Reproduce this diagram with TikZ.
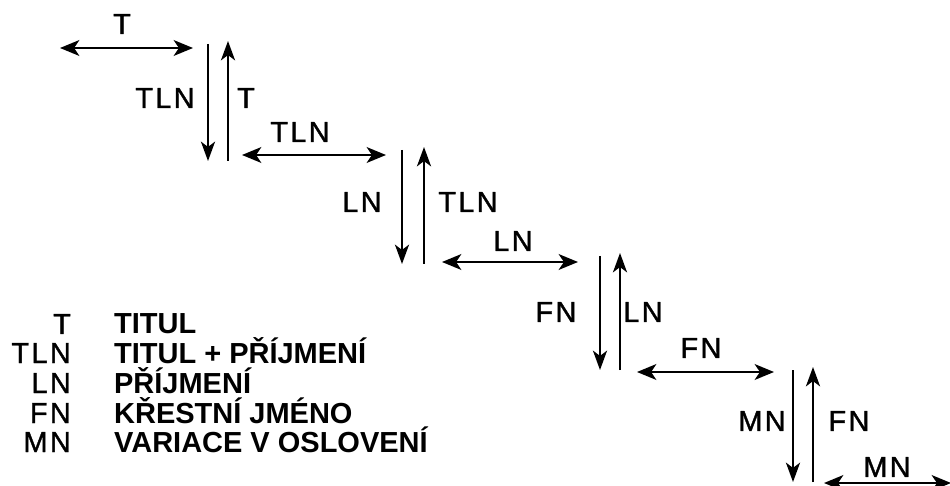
\documentclass[tikz,border=0pt]{standalone}
\usepackage{fontspec}
\setmainfont{Liberation Sans}
\usetikzlibrary{arrows.meta}

\begin{document}
\begin{tikzpicture}[x=0.02cm, y=-0.02cm, line width=1.3pt,
  every node/.style={inner sep=0pt, font=\fontsize{16.5}{16.5}\selectfont\addfontfeature{LetterSpace=8,FakeBold=1.2}},
  both/.style={{Stealth[length=11pt,width=9pt,inset=3pt]}-{Stealth[length=11pt,width=9pt,inset=3pt]}},
  single/.style={-{Stealth[length=11pt,width=8pt,inset=3pt]}},
  key/.style={anchor=base east},
  meaning/.style={anchor=base west, font=\fontsize{16.5}{16.5}\selectfont\bfseries}]
\useasboundingbox (0,0) rectangle (950,486);
% Step 1
\coordinate (h1a) at (60,48); \coordinate (h1b) at (193,48);
\coordinate (d1a) at (208,44); \coordinate (d1b) at (208,161);
\coordinate (u1a) at (228,161); \coordinate (u1b) at (228,41);
\draw[both] (h1a) -- (h1b);
\draw[single] (d1a) -- (d1b);
\draw[single] (u1a) -- (u1b);
\node (t1) at (122,24) {T};
\node (l1) at (165,98) {TLN};
\node (r1) at (246,98) {T};
% Step 2
\coordinate (h2a) at (242,155); \coordinate (h2b) at (386,155);
\coordinate (d2a) at (402,150); \coordinate (d2b) at (402,264);
\coordinate (u2a) at (424,264); \coordinate (u2b) at (424,147);
\draw[both] (h2a) -- (h2b);
\draw[single] (d2a) -- (d2b);
\draw[single] (u2a) -- (u2b);
\node (t2) at (300,132) {TLN};
\node (l2) at (362,202) {LN};
\node (r2) at (468,202) {TLN};
% Step 3
\coordinate (h3a) at (442,262); \coordinate (h3b) at (578,262);
\coordinate (d3a) at (600,256); \coordinate (d3b) at (600,370);
\coordinate (u3a) at (620,370); \coordinate (u3b) at (620,253);
\draw[both] (h3a) -- (h3b);
\draw[single] (d3a) -- (d3b);
\draw[single] (u3a) -- (u3b);
\node (t3) at (513,241) {LN};
\node (l3) at (556,312) {FN};
\node (r3) at (643,312) {LN};
% Step 4
\coordinate (h4a) at (637,372); \coordinate (h4b) at (774,372);
\coordinate (d4a) at (793,370); \coordinate (d4b) at (793,482);
\coordinate (u4a) at (813,482); \coordinate (u4b) at (813,367);
\draw[both] (h4a) -- (h4b);
\draw[single] (d4a) -- (d4b);
\draw[single] (u4a) -- (u4b);
\node (t4) at (701,348) {FN};
\node (l4) at (762,421) {MN};
\node (r4) at (849,421) {FN};
% Step 5
\coordinate (h5a) at (824,483); \coordinate (h5b) at (951,483);
\draw[both] (h5a) -- (h5b);
\node (t5) at (887,467) {MN};
% Legend
\node[key] (kT) at (72,334) {T};
\node[meaning] (mT) at (113,334) {TITUL};
\node[key] (kTLN) at (72,363) {TLN};
\node[meaning] (mTLN) at (113,363) {TITUL + PŘÍJMENÍ};
\node[key] (kLN) at (72,393) {LN};
\node[meaning] (mLN) at (113,393) {PŘÍJMENÍ};
\node[key] (kFN) at (72,423) {FN};
\node[meaning] (mFN) at (113,423) {KŘESTNÍ JMÉNO};
\node[key] (kMN) at (72,452) {MN};
\node[meaning] (mMN) at (113,452) {VARIACE V OSLOVENÍ};
\end{tikzpicture}
\end{document}
